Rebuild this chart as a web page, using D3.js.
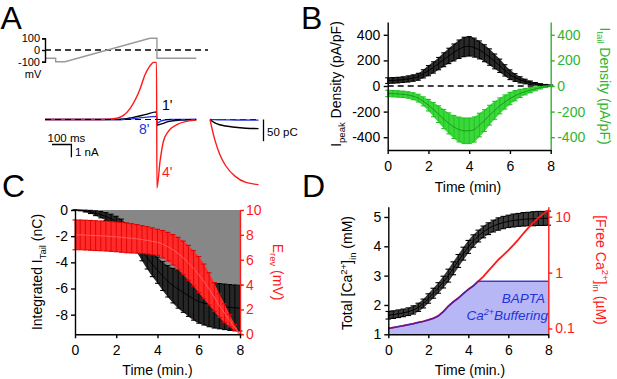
<!DOCTYPE html>
<html>
<head>
<meta charset="utf-8">
<script src="https://cdn.jsdelivr.net/npm/d3@7"></script>
<style>
body { margin: 0; background: #fff; }
svg { display: block; font-family: "Liberation Sans", Arial, sans-serif; }
</style>
</head>
<body>
<svg id="fig" width="617" height="379"></svg>
<script>
// ---- panel A: voltage protocol and example currents ----
var protoTime = [0, 55, 55, 103, 541, 577, 577, 780];      // ms
var protoMv = [-70, -70, -100, -100, 100, 100, -70, -70];
var protoTicks = [-100, 0, 100];

var red4Time = [0, 300, 370, 440, 490, 515, 540, 560, 575, 577, 593, 610, 635, 680, 730, 780];
var red4Na = [0, 0, 0.1, 0.9, 2.4, 3.5, 4.2, 4.5, 4.5, -5.4, -3.3, -1.75, -0.95, -0.4, -0.15, -0.05];
var black1Time = [0, 380, 450, 520, 575, 577, 600, 640, 700, 780];
var black1Na = [0, 0, 0.15, 0.4, 0.6, -0.45, -0.35, -0.15, -0.05, 0];
var blue8Time = [0, 400, 575, 577, 600, 650, 780];
var blue8Na = [0, 0, 0.25, -0.3, -0.1, 0, 0];

// integrated tail charge (pC)
var qTime = [0, 25, 50, 80, 130, 185, 250];
var red4Pc = [0, -47, -80, -106, -131, -145, -150];
var black1Pc = [0, -8, -12, -15, -18, -20, -21];
var blue8Pc = [0, -0.3, -0.5, -0.8, -1, -1.3, -1.5];

// ---- panels B-D: time course (min) ----
var minutes = [0, 0.25, 0.5, 0.75, 1, 1.25, 1.5, 1.75, 2, 2.25, 2.5, 2.75, 3, 3.25, 3.5, 3.75, 4,
               4.25, 4.5, 4.75, 5, 5.25, 5.5, 5.75, 6, 6.25, 6.5, 6.75, 7, 7.25, 7.5, 7.75, 8];
var timeTicks = [0, 2, 4, 6, 8];

var peakMean = [42, 44, 46, 50, 55, 62, 72, 95, 120, 145, 175, 205, 235, 262, 287, 305, 310,
                300, 282, 256, 226, 192, 158, 122, 88, 66, 48, 35, 25, 17, 11, 7, 5];
var peakSem = [22, 22, 22, 22, 24, 25, 27, 32, 40, 44, 48, 54, 60, 66, 72, 76, 76,
               74, 70, 66, 64, 58, 52, 44, 38, 30, 24, 18, 14, 10, 7, 5, 3];
var tailMean = [-58, -60, -62, -65, -70, -80, -95, -120, -150, -185, -220, -258, -292, -320, -340, -350, -350,
                -340, -305, -270, -228, -190, -155, -125, -98, -76, -58, -44, -32, -22, -13, -6, -2];
var tailSem = [25, 25, 25, 25, 25, 27, 30, 35, 45, 55, 65, 75, 82, 90, 97, 100, 100,
               98, 92, 85, 77, 70, 62, 55, 48, 40, 32, 25, 20, 15, 10, 6, 3];
var densityTicks = [-400, -200, 0, 200, 400];

var chargeMean = [0, -0.03, -0.08, -0.15, -0.25, -0.36, -0.5, -0.68, -0.9, -1.2, -1.6, -2.05, -2.55, -3.1, -3.65, -4.15, -4.6,
                  -5.05, -5.45, -5.78, -6.05, -6.3, -6.55, -6.8, -7.0, -7.12, -7.22, -7.3, -7.35, -7.4, -7.45, -7.48, -7.5];
var chargeSem = [0, 0.03, 0.07, 0.12, 0.18, 0.24, 0.3, 0.36, 0.42, 0.5, 0.58, 0.64, 0.7, 0.78, 0.86, 0.94, 1.0,
                 1.1, 1.2, 1.32, 1.45, 1.52, 1.58, 1.62, 1.65, 1.67, 1.7, 1.72, 1.73, 1.74, 1.75, 1.75, 1.75];
var erevMean = [8.0, 8.0, 7.98, 7.96, 7.94, 7.92, 7.9, 7.87, 7.84, 7.8, 7.76, 7.72, 7.68, 7.62, 7.56, 7.48, 7.4,
                7.25, 7.05, 6.8, 6.5, 6.15, 5.75, 5.3, 4.8, 4.25, 3.65, 3.0, 2.3, 1.7, 1.1, 0.55, 0];
var erevSem = [1.2, 1.2, 1.2, 1.2, 1.2, 1.2, 1.2, 1.2, 1.2, 1.2, 1.2, 1.18, 1.15, 1.12, 1.1, 1.08, 1.05,
               1.1, 1.15, 1.22, 1.3, 1.35, 1.4, 1.43, 1.45, 1.4, 1.3, 1.15, 0.95, 0.75, 0.5, 0.25, 0];
var chargeTicks = [-8, -6, -4, -2, 0];
var erevTicks = [0, 2, 4, 6, 8, 10];

var totalCaMean = [1.65, 1.67, 1.7, 1.73, 1.77, 1.83, 1.92, 2.05, 2.22, 2.4, 2.58, 2.78, 3.0, 3.25, 3.5, 3.75, 3.98,
                   4.18, 4.35, 4.49, 4.6, 4.69, 4.76, 4.81, 4.85, 4.88, 4.9, 4.92, 4.93, 4.94, 4.95, 4.95, 4.96];
var totalCaSem = [0.13, 0.13, 0.13, 0.13, 0.13, 0.14, 0.14, 0.15, 0.16, 0.17, 0.18, 0.2, 0.22, 0.22, 0.22, 0.22, 0.22,
                  0.21, 0.2, 0.2, 0.2, 0.2, 0.21, 0.21, 0.21, 0.22, 0.22, 0.23, 0.23, 0.24, 0.24, 0.24, 0.24];
var freeCa = [0.1, 0.104, 0.108, 0.112, 0.117, 0.122, 0.128, 0.134, 0.142, 0.152, 0.168, 0.2, 0.25, 0.3, 0.35, 0.42, 0.5,
              0.58, 0.7, 0.85, 1.07, 1.35, 1.7, 2.05, 2.5, 3.1, 3.9, 5.0, 6.3, 7.8, 9.5, 11.3, 13];
var baptaCa = [0.1, 0.104, 0.108, 0.112, 0.117, 0.122, 0.128, 0.134, 0.142, 0.152, 0.168, 0.2, 0.25, 0.3, 0.35, 0.42, 0.5,
               0.58, 0.7, 0.7, 0.7, 0.7, 0.7, 0.7, 0.7, 0.7, 0.7, 0.7, 0.7, 0.7, 0.7, 0.7, 0.7];
var totalCaTicks = [1, 2, 3, 4, 5];
var freeCaTicks = [0.1, 1, 10];

var RED = "#ff1a1a", GREEN = "#2fb52f", BLUE = "#2233dd";
var svg = d3.select("#fig");

function styleAxis(g, color, size) {
    g.select(".domain").attr("stroke", color).attr("stroke-width", 1.4);
    g.selectAll(".tick line").attr("stroke", color).attr("stroke-width", 1.4);
    g.selectAll(".tick text").attr("fill", color).attr("font-size", size || 14)
        .attr("font-family", "Liberation Sans, Arial, sans-serif");
}

// mean line with error bars, drawn over a filled band
function band(g, x, y, t, m, s, o) {
    var area = d3.area()
        .x(function(d, i) { return x(t[i]); })
        .y0(function(d, i) { return y(d - s[i]); })
        .y1(function(d, i) { return y(d + s[i]); })
        .curve(d3.curveMonotoneX);
    g.append("path").datum(m).attr("d", area).attr("fill", o.fill);
    g.selectAll(null).data(m).enter().append("line")
        .attr("x1", function(d, i) { return x(t[i]); })
        .attr("x2", function(d, i) { return x(t[i]); })
        .attr("y1", function(d, i) { return y(d - s[i]); })
        .attr("y2", function(d, i) { return y(d + s[i]); })
        .attr("stroke", o.bar).attr("stroke-width", 0.9);
    [-1, 1].forEach(function(sg) {
        g.selectAll(null).data(m).enter().append("line")
            .attr("x1", function(d, i) { return x(t[i]) - o.cap; })
            .attr("x2", function(d, i) { return x(t[i]) + o.cap; })
            .attr("y1", function(d, i) { return y(d + sg * s[i]); })
            .attr("y2", function(d, i) { return y(d + sg * s[i]); })
            .attr("stroke", o.bar).attr("stroke-width", 1.1);
    });
    g.append("path").datum(m)
        .attr("d", d3.line().x(function(d, i) { return x(t[i]); }).y(function(d) { return y(d); }).curve(d3.curveMonotoneX))
        .attr("fill", "none").attr("stroke", o.line).attr("stroke-width", 1);
}

function trace(g, x, y, t, v, color, width, curve) {
    g.append("path").datum(v)
        .attr("d", d3.line().x(function(d, i) { return x(t[i]); }).y(function(d) { return y(d); }).curve(curve || d3.curveMonotoneX))
        .attr("fill", "none").attr("stroke", color).attr("stroke-width", width || 1.4);
}

// rotated axis title: parts = [[text, "sub"|"sup"|null], ...]
function title(x, y, angle, color, parts) {
    var t = svg.append("text")
        .attr("transform", "translate(" + x + "," + y + ") rotate(" + angle + ")")
        .attr("text-anchor", "middle").attr("fill", color).attr("font-size", 14);
    var shift = 0;
    parts.forEach(function(p) {
        var target = p[1] === "sub" ? 3.5 : p[1] === "sup" ? -5.5 : 0;
        t.append("tspan").attr("dy", target - shift)
            .attr("font-size", p[1] ? 9.5 : 14).text(p[0]);
        shift = target;
    });
    return t;
}

function letter(x, y, s) {
    svg.append("text").attr("x", x).attr("y", y).attr("font-size", 32).text(s);
}

letter(0.5, 29, "A");
letter(301, 28.5, "B");
letter(2, 197, "C");
letter(302, 197, "D");

// ================= Panel A =================
var gA = svg.append("g");
var xA = d3.scaleLinear().domain([0, 780]).range([45, 196.3]);
var vA = d3.scaleLinear().domain([-100, 100]).range([61.7, 38.3]);
var iA = d3.scaleLinear().domain([-6, 5]).range([119.5 + 6 * 12.7, 119.5 - 5 * 12.7]);
var xQ = d3.scaleLinear().domain([0, 250]).range([210, 258.5]);
var qA = d3.scaleLinear().domain([-150, 0]).range([119.5 + 3 * 21.7, 119.5]);

gA.append("line").attr("x1", 45).attr("x2", 208).attr("y1", vA(0)).attr("y2", vA(0))
    .attr("stroke", "#000").attr("stroke-width", 1.4).attr("stroke-dasharray", "6,4");
trace(gA, xA, vA, protoTime, protoMv, "#999", 1.4, d3.curveLinear);
var axV = gA.append("g").attr("transform", "translate(45,0)")
    .call(d3.axisLeft(vA).tickValues(protoTicks).tickSize(3).tickPadding(2).tickFormat(String));
styleAxis(axV, "#000", 11);
gA.append("text").attr("x", 33).attr("y", 78).attr("text-anchor", "middle").attr("font-size", 11).text("mV");

trace(gA, xA, iA, black1Time, black1Na, "#000", 1.4);
trace(gA, xA, iA, blue8Time, blue8Na, BLUE, 1.4);
trace(gA, xA, iA, red4Time, red4Na, RED, 1.4);
gA.append("line").attr("x1", 45).attr("x2", 196).attr("y1", iA(0)).attr("y2", iA(0))
    .attr("stroke", "#000").attr("stroke-width", 1.2).attr("stroke-dasharray", "6,4");

gA.append("text").attr("x", 162).attr("y", 110).attr("font-size", 14).text("1'");
gA.append("text").attr("x", 139).attr("y", 134).attr("font-size", 14).attr("fill", BLUE).text("8'");
gA.append("text").attr("x", 162).attr("y", 177).attr("font-size", 14).attr("fill", RED).text("4'");

// scale bars
var barX = 52, barY = 144.5;
gA.append("path")
    .attr("d", "M" + barX + "," + barY + "H" + (barX + xA(100) - xA(0)) + "V" + (barY + iA(0) - iA(1)))
    .attr("fill", "none").attr("stroke", "#000").attr("stroke-width", 1.3);
gA.append("text").attr("x", 47.5).attr("y", 141.5).attr("font-size", 11.5).text("100 ms");
gA.append("text").attr("x", 75).attr("y", 156).attr("font-size", 11.5).text("1 nA");

// integrated traces
gA.append("line").attr("x1", xQ(0)).attr("x2", xQ(250)).attr("y1", qA(0)).attr("y2", qA(0))
    .attr("stroke", "#000").attr("stroke-width", 1.2).attr("stroke-dasharray", "6,4");
trace(gA, xQ, qA, qTime, blue8Pc, BLUE, 1.4);
trace(gA, xQ, qA, qTime, black1Pc, "#000", 1.4);
trace(gA, xQ, qA, qTime, red4Pc, RED, 1.4);
gA.append("line").attr("x1", 263.5).attr("x2", 263.5).attr("y1", qA(0)).attr("y2", qA(-50))
    .attr("stroke", "#000").attr("stroke-width", 1.3);
gA.append("text").attr("x", 267).attr("y", 136).attr("font-size", 11.5).text("50 pC");

// ================= Panel B =================
var gB = svg.append("g");
var xB = d3.scaleLinear().domain([0, 8]).range([387.7, 550.7]);
var yB = d3.scaleLinear().domain([-500, 500]).range([150, 22]);

gB.append("line").attr("x1", xB(0)).attr("x2", xB(8)).attr("y1", yB(0)).attr("y2", yB(0))
    .attr("stroke", "#000").attr("stroke-width", 1.4).attr("stroke-dasharray", "6,4");
band(gB, xB, yB, minutes, peakMean, peakSem, { fill: "#2a2a2a", bar: "#000", line: "#000", cap: 2.5 });
band(gB, xB, yB, minutes, tailMean, tailSem, { fill: "#3ad83a", bar: "#22c022", line: "#1a9a1a", cap: 2.5 });

styleAxis(gB.append("g").attr("transform", "translate(" + xB(0) + ",0)")
    .call(d3.axisLeft(yB).tickValues(densityTicks).tickSize(4).tickSizeOuter(0).tickPadding(3.5).tickFormat(String)), "#000");
styleAxis(gB.append("g").attr("transform", "translate(" + xB(8) + ",0)")
    .call(d3.axisRight(yB).tickValues(densityTicks).tickSize(4).tickSizeOuter(0).tickPadding(2.5).tickFormat(String)), GREEN);
styleAxis(gB.append("g").attr("transform", "translate(0," + yB(-500) + ")")
    .call(d3.axisBottom(xB).tickValues(timeTicks).tickSize(4).tickSizeOuter(0).tickPadding(7).tickFormat(String)), "#000");

title(341, 84, -90, "#000", [["I", null], ["peak", "sub"], [" Density (pA/pF)", null]]);
title(600, 86, 90, GREEN, [["I", null], ["tail", "sub"], [" Density (pA/pF)", null]]);
svg.append("text").attr("x", 468).attr("y", 192).attr("text-anchor", "middle").attr("font-size", 14).text("Time (min)");

// ================= Panel C =================
var gC = svg.append("g");
var xC = d3.scaleLinear().domain([0, 8]).range([75, 240]);
var yC = d3.scaleLinear().domain([-9.5, 0]).range([334.3, 210]);
var eC = d3.scaleLinear().domain([0, 10]).range([334.3, 210]);

gC.append("path").datum(chargeMean)
    .attr("d", d3.area()
        .x(function(d, i) { return xC(minutes[i]); })
        .y0(yC(0))
        .y1(function(d, i) { return yC(d + chargeSem[i]); })
        .curve(d3.curveMonotoneX))
    .attr("fill", "#878787");
band(gC, xC, yC, minutes, chargeMean, chargeSem, { fill: "#262626", bar: "#000", line: "#000", cap: 2.5 });
band(gC, xC, eC, minutes, erevMean, erevSem, { fill: "#ff2a2a", bar: "#e00000", line: "#ff5a5a", cap: 2.5 });

styleAxis(gC.append("g").attr("transform", "translate(" + xC(0) + ",0)")
    .call(d3.axisLeft(yC).tickValues(chargeTicks).tickSize(4).tickSizeOuter(0).tickPadding(3).tickFormat(String)), "#000");
styleAxis(gC.append("g").attr("transform", "translate(" + xC(8) + ",0)")
    .call(d3.axisRight(eC).tickValues(erevTicks).tickSize(4).tickSizeOuter(0).tickPadding(2).tickFormat(String)), RED);
styleAxis(gC.append("g").attr("transform", "translate(0," + yC(-9.5) + ")")
    .call(d3.axisBottom(xC).tickValues(timeTicks).tickSize(4).tickSizeOuter(0).tickPadding(6.5).tickFormat(String)), "#000");

title(42, 272, -90, "#000", [["Integrated I", null], ["Tail", "sub"], [" (nC)", null]]);
title(273, 272, 90, RED, [["E", null], ["rev", "sub"], [" (mV)", null]]);
svg.append("text").attr("x", 157.5).attr("y", 375).attr("text-anchor", "middle").attr("font-size", 14).text("Time (min.)");

// ================= Panel D =================
var gD = svg.append("g");
var xD = d3.scaleLinear().domain([0, 8]).range([388.3, 548.3]);
var yD = d3.scaleLinear().domain([1, 5.35]).range([334.3, 206.7]);
var fD = d3.scaleLog().domain([0.0787, 15.1]).range([334.3, 206.7]);

gD.append("path").datum(baptaCa)
    .attr("d", d3.area()
        .x(function(d, i) { return xD(minutes[i]); })
        .y0(fD(0.0787))
        .y1(function(d) { return fD(d); }))
    .attr("fill", "#b7b7f6");
band(gD, xD, yD, minutes, totalCaMean, totalCaSem, { fill: "#3c3c3c", bar: "#000", line: "#000", cap: 2.8 });
trace(gD, xD, fD, minutes, freeCa, RED, 1.8, d3.curveLinear);
gD.append("path").datum(baptaCa)
    .attr("d", d3.line().x(function(d, i) { return xD(minutes[i]); }).y(function(d) { return fD(d); }))
    .attr("fill", "none").attr("stroke", "#2a1fc8").attr("stroke-width", 1.5).attr("stroke-opacity", 0.85);

styleAxis(gD.append("g").attr("transform", "translate(" + xD(0) + ",0)")
    .call(d3.axisLeft(yD).tickValues(totalCaTicks).tickSize(4).tickSizeOuter(0).tickPadding(3).tickFormat(String)), "#000");
styleAxis(gD.append("g").attr("transform", "translate(" + xD(8) + ",0)")
    .call(d3.axisRight(fD).tickValues(freeCaTicks).tickSize(4).tickSizeOuter(0).tickPadding(3).tickFormat(String)), RED);
styleAxis(gD.append("g").attr("transform", "translate(0," + yD(1) + ")")
    .call(d3.axisBottom(xD).tickValues(timeTicks).tickSize(4).tickSizeOuter(0).tickPadding(6.5).tickFormat(String)), "#000");

svg.append("text").attr("x", 545).attr("y", 303).attr("text-anchor", "end")
    .attr("font-size", 13.5).attr("font-style", "italic").attr("fill", BLUE).text("BAPTA");
var buf = svg.append("text").attr("x", 548).attr("y", 319.5).attr("text-anchor", "end")
    .attr("font-size", 13.5).attr("font-style", "italic").attr("fill", BLUE);
buf.append("tspan").text("Ca");
buf.append("tspan").attr("dy", -5).attr("font-size", 9).text("2+");
buf.append("tspan").attr("dy", 5).text("Buffering");

title(352, 273, -90, "#000", [["Total [Ca", null], ["2+", "sup"], ["]", null], ["in", "sub"], [" (mM)", null]]);
title(596, 270, 90, RED, [["[Free Ca", null], ["2+", "sup"], ["]", null], ["in", "sub"], [" (\u00b5M)", null]]);
svg.append("text").attr("x", 470).attr("y", 375).attr("text-anchor", "middle").attr("font-size", 14).text("Time (min.)");
</script>
</body>
</html>
